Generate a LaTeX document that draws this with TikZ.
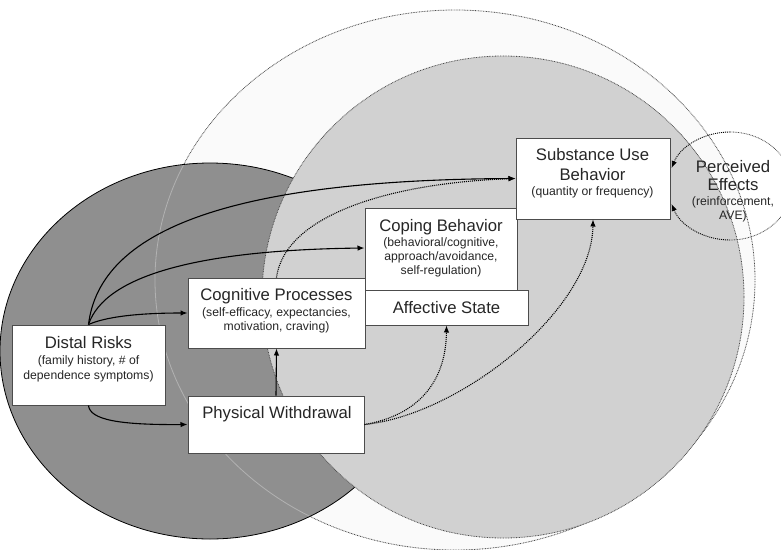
\documentclass[tikz,border=0pt]{standalone}
\usepackage{fontspec}
\setmainfont{Liberation Sans}
\usetikzlibrary{arrows.meta}
\begin{document}
\begin{tikzpicture}[x=1pt,y=-1pt,
  box/.style={draw=black!70, line width=1pt, fill=white, inner sep=0pt, rectangle},
  ttl/.style={font=\fontsize{16.7}{20}\selectfont, text=black!85, inner sep=0pt, anchor=base},
  sub/.style={font=\fontsize{12.2}{14.5}\selectfont, text=black!85, inner sep=0pt, anchor=base},
  arr/.style={line width=1.1pt, draw=black, -{Latex[length=7pt,width=5.5pt]}},
  dotarr/.style={arr, dash pattern=on 1pt off 1pt},
  rim/.style={draw=black!70, line width=0.8pt, dash pattern=on 0.8pt off 0.8pt},
]
\useasboundingbox (0,0) rectangle (781,549);

% outer dotted field
\coordinate (oc) at (455,280);
\fill[gray!4] (oc) ellipse [x radius=300pt, y radius=270pt];
\draw[rim] (oc) ellipse [x radius=300pt, y radius=270pt];

% dark field
\coordinate (dc) at (210,351);
\fill[black!44] (dc) ellipse [x radius=210pt, y radius=188pt];
\begin{scope}
  \clip (dc) ellipse [x radius=210pt, y radius=188pt];
  \draw[black!30, line width=0.8pt] (oc) ellipse [x radius=300pt, y radius=270pt];
\end{scope}
\draw[black, line width=0.8pt] (dc) ellipse [x radius=210pt, y radius=188pt];

% light field
\coordinate (lc) at (503,297);
\fill[black!18] (lc) circle [radius=241pt];
\draw[rim] (lc) circle [radius=241pt];

% boxes
\node[box, minimum width=152pt, minimum height=82pt] (coping) at (441,249) {};
\node[box, minimum width=163pt, minimum height=35pt] (aff) at (446.5,307.5) {};
\node[box, minimum width=153pt, minimum height=80pt] (distal) at (88.5,365) {};
\node[box, minimum width=177pt, minimum height=70pt] (cog) at (276.5,313) {};
\node[box, minimum width=176pt, minimum height=57pt] (phys) at (276,424.5) {};
\node[box, minimum width=154pt, minimum height=81pt] (subst) at (593,178.5) {};

% texts
\node[ttl] (t1) at (88.5,348) {Distal Risks};
\node[sub] (t1a) at (88.5,364) {(family history, \# of};
\node[sub] (t1b) at (88.5,379) {dependence symptoms)};

\node[ttl] (t2) at (276.5,300) {Cognitive Processes};
\node[sub] (t2a) at (276.5,316) {(self-efficacy, expectancies,};
\node[sub] (t2b) at (276.5,330) {motivation, craving)};

\node[ttl] (t3) at (446.5,313) {Affective State};

\node[ttl] (t4) at (277,418) {Physical Withdrawal};

\node[ttl] (t5) at (441,231) {Coping Behavior};
\node[sub] (t5a) at (441,246) {(behavioral/cognitive,};
\node[sub] (t5b) at (441,260) {approach/avoidance,};
\node[sub] (t5c) at (441,274) {self-regulation)};

\node[ttl] (t6) at (592.5,160) {Substance Use};
\node[ttl] (t6a) at (592.5,180) {Behavior};
\node[sub] (t6b) at (592.5,195) {(quantity or frequency)};

\node[ttl] (t7) at (733,172) {Perceived};
\node[ttl] (t7a) at (733,190) {Effects};
\node[sub] (t7b) at (733,205) {(reinforcement,};
\node[sub] (t7c) at (733,219) {AVE)};

% solid connectors
\draw[arr] (distal.north) .. controls (100,230) and (230,180) .. (subst.west);
\draw[arr] (distal.north) .. controls (105,275) and (200,250) .. (coping.west |- 0,248);
\draw[arr] (distal.north) .. controls (110,315) and (150,313) .. (cog.west);
\draw[arr] (distal.south) .. controls (90,420) and (120,425) .. (phys.west);
\draw[arr] (phys.north) -- (cog.south);

% dotted connectors
\draw[dotarr] (cog.north) .. controls (285,215) and (390,183) .. (subst.west);
\draw[dotarr] (phys.east) .. controls (420,415) and (446,380) .. (aff.south);
\draw[dotarr] (phys.east) .. controls (460,415) and (592,310) .. (subst.south);

% perceived effects loop
\coordinate (pc) at (730,186);
\draw[rim] (pc) ++(0,-54) arc[start angle=90, end angle=-90, x radius=62pt, y radius=54pt];
\draw[dotarr, line width=0.9pt] (pc) ++(0,-54) arc[start angle=90, end angle=160.5, x radius=62pt, y radius=54pt];
\draw[dotarr, line width=0.9pt] (pc) ++(0,54) arc[start angle=270, end angle=199.5, x radius=62pt, y radius=54pt];
\end{tikzpicture}
\end{document}
